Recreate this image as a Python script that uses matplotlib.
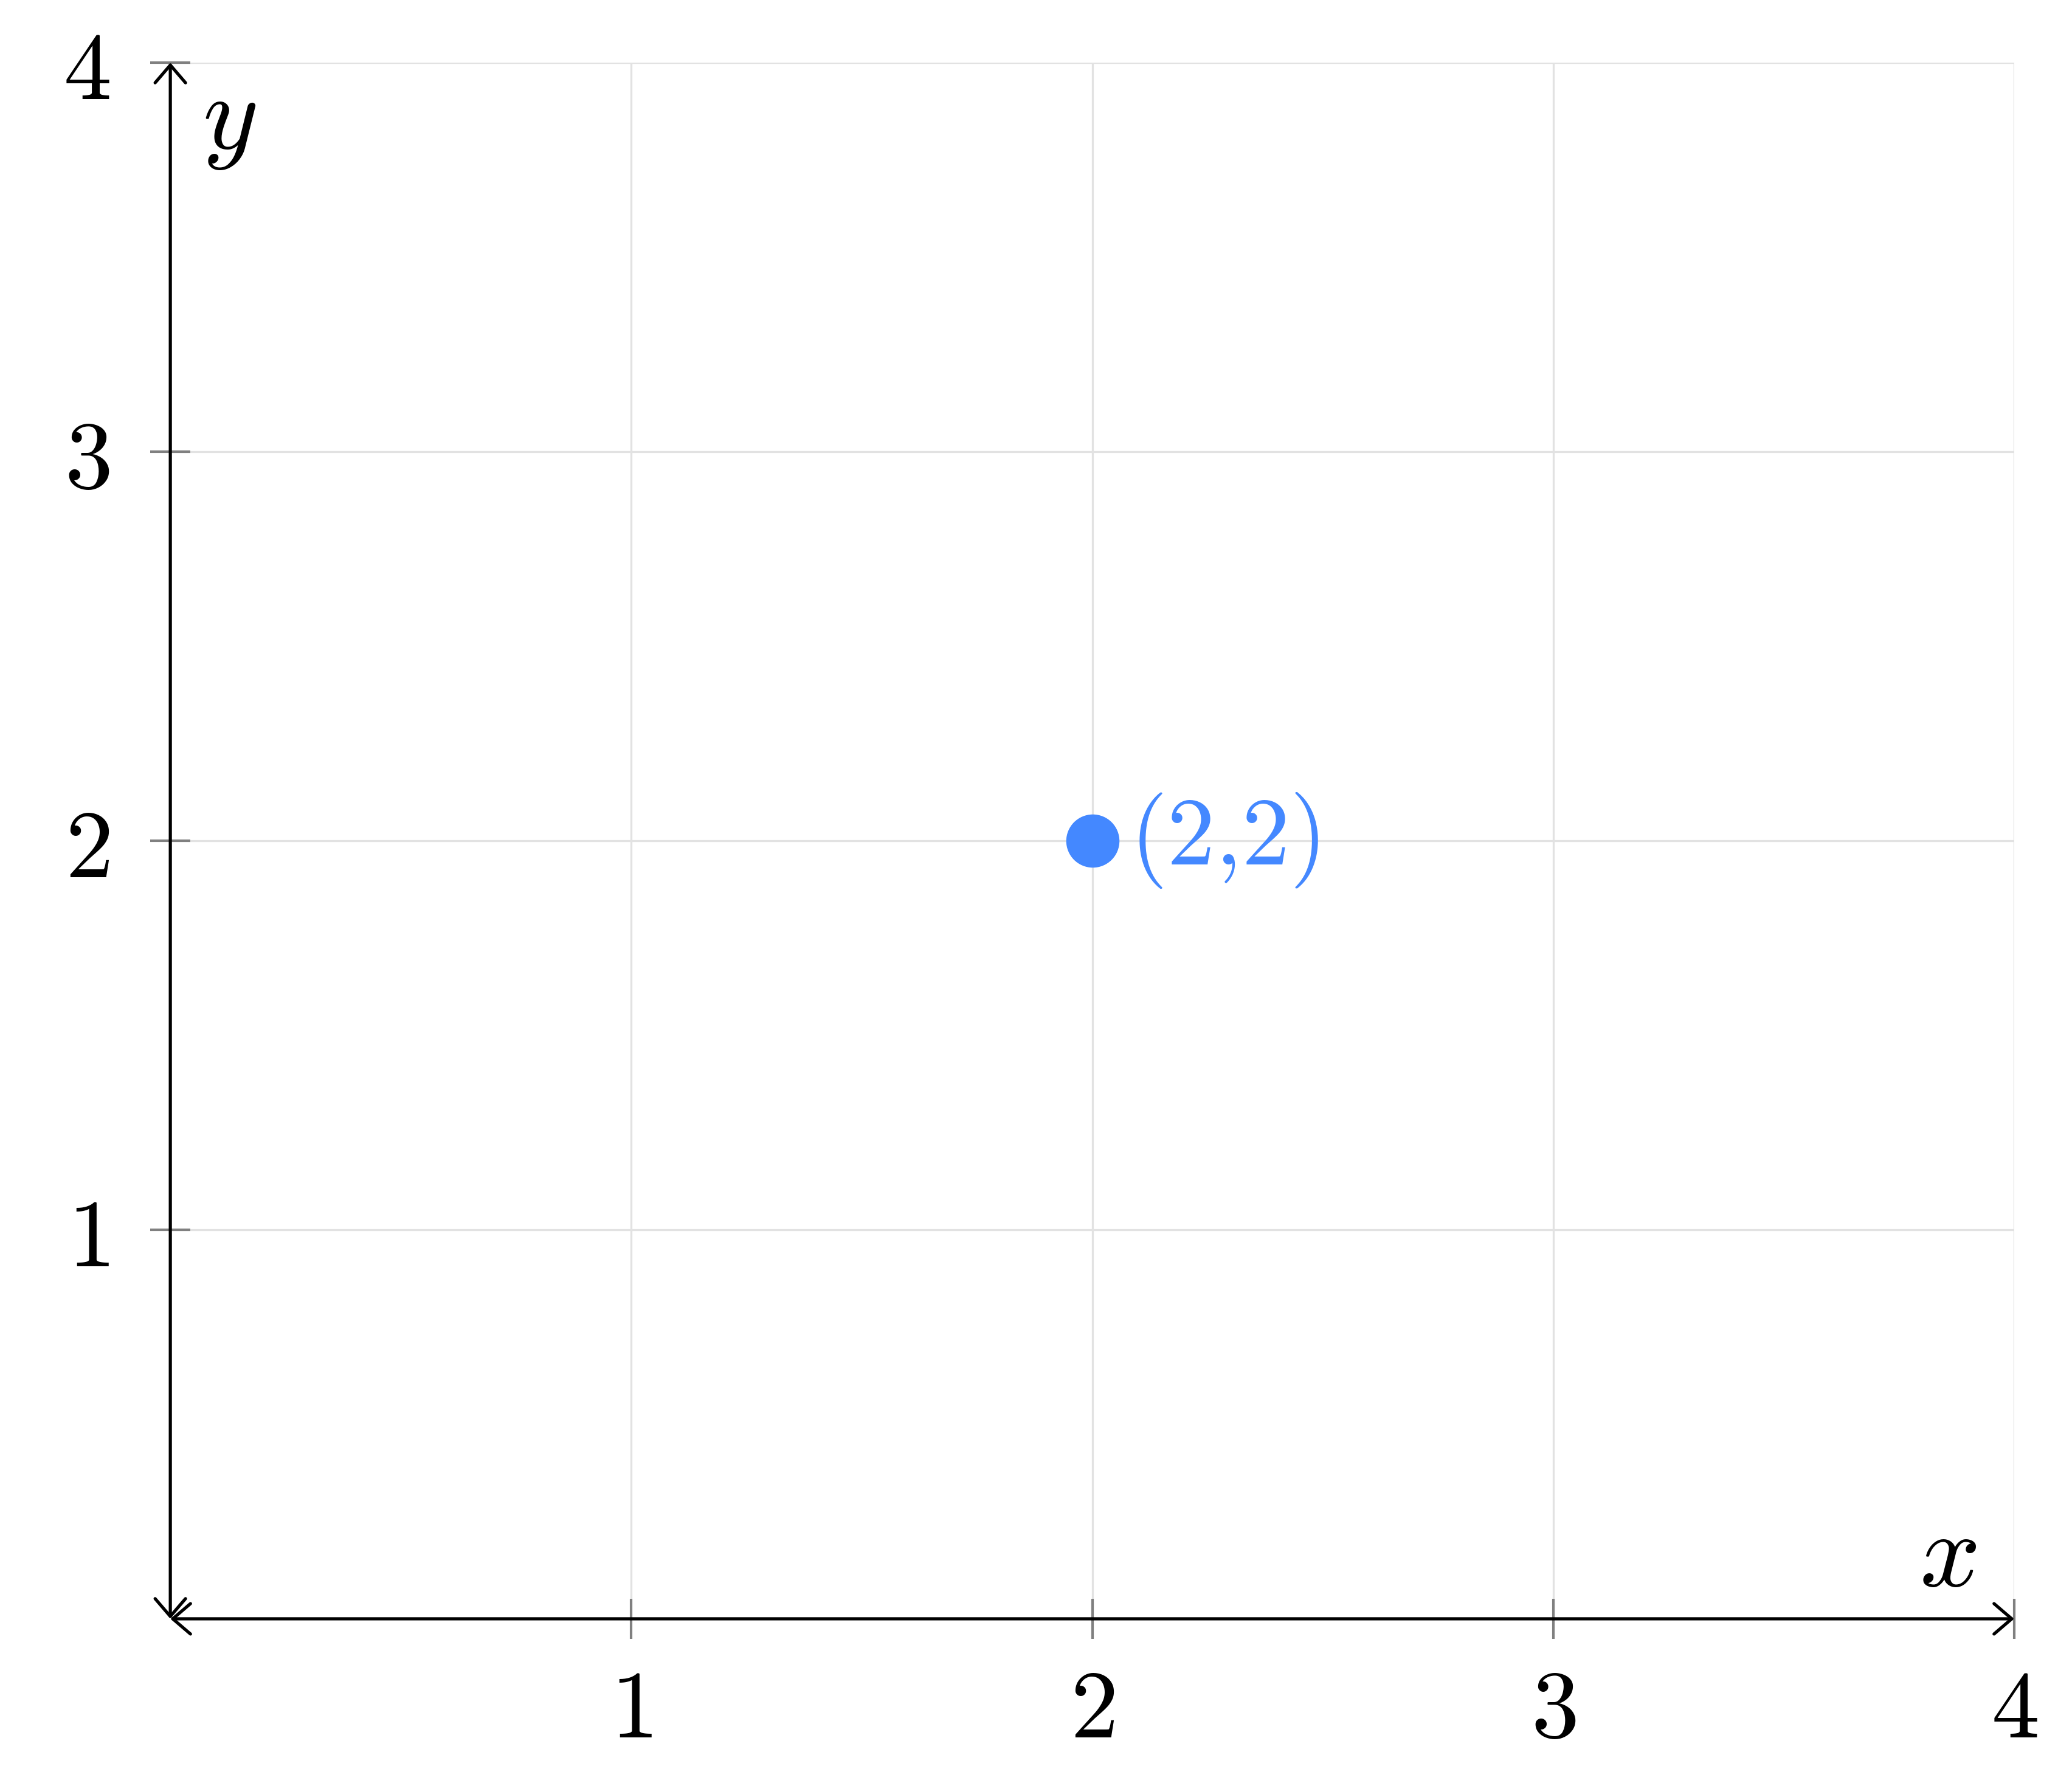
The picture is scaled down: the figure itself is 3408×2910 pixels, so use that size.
import matplotlib
matplotlib.use('Agg')
import matplotlib.pyplot as plt

plt.rcParams['mathtext.fontset'] = 'cm'
plt.rcParams['font.family'] = 'serif'

# data
point_x = [2]
point_y = [2]
point_labels = ['(2,2)']
x_ticks = [1, 2, 3, 4]
y_ticks = [1, 2, 3, 4]
x_range = (0, 4)
y_range = (0, 4)

blue = '#4488ff'
fs = 38

fig = plt.figure(figsize=(11.36, 9.70), dpi=300)
ax = fig.add_axes([0.0822, 0.0849, 0.9721 - 0.0822, 0.9646 - 0.0849])
ax.set_xlim(*x_range)
ax.set_ylim(*y_range)

for s in ax.spines.values():
    s.set_visible(False)

ax.set_xticks(x_ticks)
ax.set_yticks(y_ticks)
ax.set_xticklabels([rf'${t}$' for t in x_ticks], fontsize=fs)
ax.set_yticklabels([rf'${t}$' for t in y_ticks], fontsize=fs)
ax.tick_params(direction='inout', length=16, width=1.0, color='#808080')
ax.tick_params(axis='x', pad=10)
ax.tick_params(axis='y', pad=16)
ax.grid(True, color='#e2e2e2', linewidth=0.8)
ax.set_axisbelow(True)

# axis lines with arrows at both ends
arrow = dict(arrowstyle='<->,head_length=0.7,head_width=0.6', color='black',
             lw=1.25, shrinkA=0, shrinkB=0)
ax.annotate('', xy=(1, 0), xytext=(0, 0), xycoords='axes fraction',
            textcoords='axes fraction', arrowprops=arrow, annotation_clip=False)
ax.annotate('', xy=(0, 1), xytext=(0, 0), xycoords='axes fraction',
            textcoords='axes fraction', arrowprops=arrow, annotation_clip=False)

ax.text(0.964, 0.04, r'$x$', transform=ax.transAxes, fontsize=fs + 4,
        ha='center', va='center')
ax.text(0.032, 0.963, r'$y$', transform=ax.transAxes, fontsize=fs + 4,
        ha='center', va='center')

ax.plot(point_x, point_y, 'o', color=blue, markersize=20, zorder=5,
        clip_on=False)
for x, y, lab in zip(point_x, point_y, point_labels):
    ax.annotate(lab, xy=(x, y), xytext=(15, 0), family='cmr10',
                textcoords='offset points', color=blue, fontsize=fs,
                ha='left', va='center')

fig.savefig('out.png', dpi=300)
